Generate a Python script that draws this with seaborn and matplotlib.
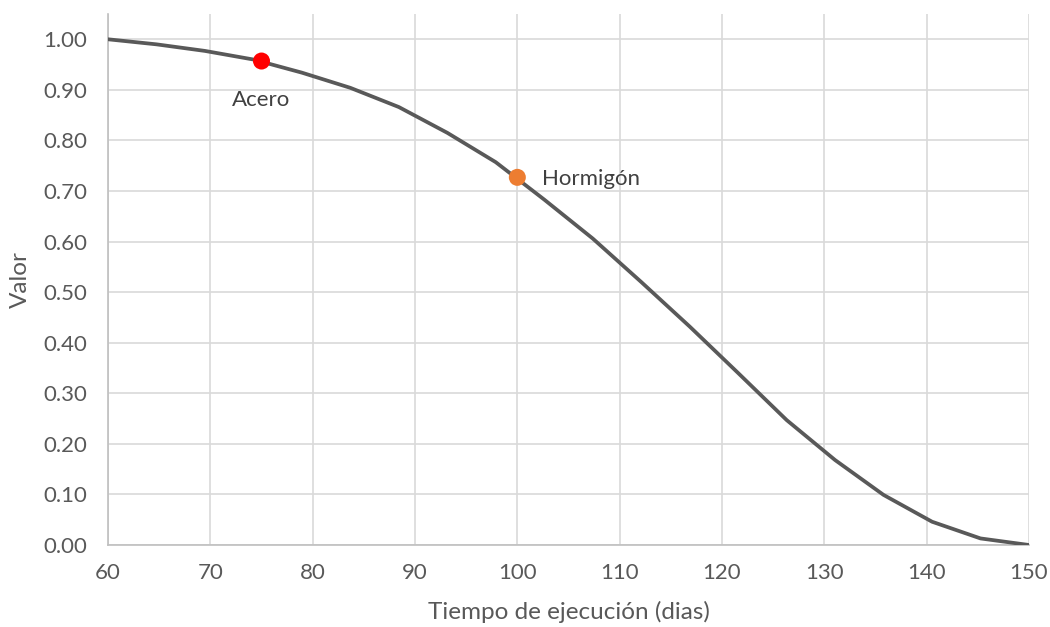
import numpy as np
import pandas as pd
import matplotlib
matplotlib.use("Agg")
import matplotlib.pyplot as plt
import seaborn as sns

# Curve data
dias = [60.00, 64.74, 69.47, 74.21, 78.95, 83.68, 88.42, 93.16, 97.89, 102.63,
        107.37, 112.11, 116.84, 121.58, 126.32, 131.05, 135.79, 140.53, 145.26, 150.00]
valor = [1.000, 0.990, 0.977, 0.960, 0.934, 0.904, 0.866, 0.815, 0.757, 0.683,
         0.606, 0.520, 0.432, 0.340, 0.247, 0.168, 0.099, 0.046, 0.013, 0.000]

# Highlighted points
pt_names = ["Acero", "Hormigón"]
pt_x = [75, 100]
pt_y = [0.957, 0.727]
pt_colors = ["#ff0000", "#ed7d31"]

xticks = [60, 70, 80, 90, 100, 110, 120, 130, 140, 150]
yticks = [0.0, 0.1, 0.2, 0.3, 0.4, 0.5, 0.6, 0.7, 0.8, 0.9, 1.0]

sns.set_theme(style="white")
plt.rcParams['font.family'] = ['Lato', 'DejaVu Sans']

fig = plt.figure(figsize=(10.5, 6.27), dpi=100)
ax = fig.add_axes([108/1050, 1-545/627, (1029-108)/1050, (545-14)/627])

df = pd.DataFrame({"x": dias, "y": valor})
sns.lineplot(data=df, x="x", y="y", ax=ax, color="#595959", linewidth=2.7, zorder=3)

pts = pd.DataFrame({"x": pt_x, "y": pt_y, "name": pt_names})
sns.scatterplot(data=pts, x="x", y="y", hue="name", palette=dict(zip(pt_names, pt_colors)),
                s=150, edgecolor="none", ax=ax, zorder=4, legend=False)

ax.annotate(pt_names[0], (pt_x[0], pt_y[0]), xytext=(0, -28), textcoords="offset points",
            ha="center", va="center", fontsize=16, color="#404040")
ax.annotate(pt_names[1], (pt_x[1], pt_y[1]), xytext=(18, -1.5), textcoords="offset points",
            ha="left", va="center", fontsize=16, color="#404040")

ax.set_xlim(60, 150)
ax.set_ylim(0, 1.05)
ax.set_xticks(xticks)
ax.set_yticks(yticks)
ax.set_yticklabels([f"{v:.2f}" for v in yticks])
ax.set_xticklabels([str(v) for v in xticks])

ax.grid(True, color="#d9d9d9", linewidth=1.2)
ax.set_axisbelow(True)
for s in ["top", "right"]:
    ax.spines[s].set_visible(False)
for s in ["left", "bottom"]:
    ax.spines[s].set_color("#bfbfbf")
    ax.spines[s].set_linewidth(1.2)

ax.tick_params(axis="both", labelsize=16, colors="#595959", length=0)
ax.tick_params(axis="y", pad=15)
ax.tick_params(axis="x", pad=13)
ax.set_xlabel("Tiempo de ejecución (dias)", fontsize=17.5, color="#595959", labelpad=13)
ax.set_ylabel("Valor", fontsize=17.5, color="#595959", labelpad=9)

fig.savefig("out.png", dpi=100)
